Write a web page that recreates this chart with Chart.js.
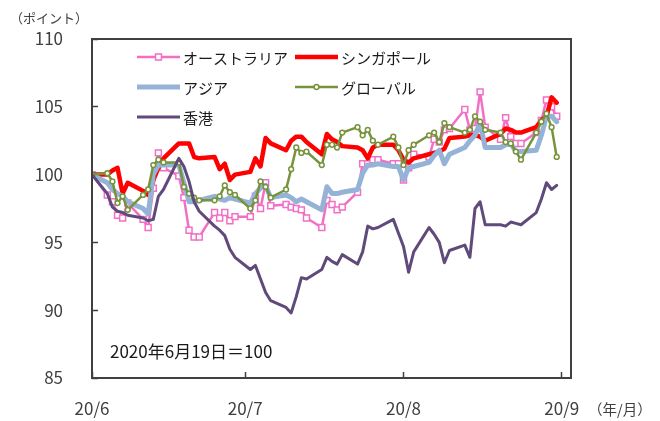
<!DOCTYPE html>
<html lang="ja">
<head>
<meta charset="utf-8">
<title>指数推移</title>
<script src="https://cdn.jsdelivr.net/npm/chart.js@4.4.1/dist/chart.umd.min.js"></script>
<style>
	html, body { margin: 0; padding: 0; background: #fff; }
	#wrap { position: relative; width: 660px; height: 421px; }
</style>
</head>
<body>
<div id="wrap"><canvas id="indexChart" width="660" height="421"></canvas></div>
<script>
// business days, 2020
const dates = [
	'6/19', '6/22', '6/23', '6/24', '6/25', '6/26', '6/29', '6/30',
	'7/1', '7/2', '7/3', '7/6', '7/7', '7/8', '7/9', '7/10', '7/13', '7/14', '7/15', '7/16', '7/17',
	'7/20', '7/21', '7/22', '7/23', '7/24', '7/27', '7/28', '7/29', '7/30', '7/31',
	'8/3', '8/4', '8/5', '8/6', '8/7', '8/10', '8/11', '8/12', '8/13', '8/14',
	'8/17', '8/18', '8/19', '8/20', '8/21', '8/24', '8/25', '8/26', '8/27', '8/28', '8/31',
	'9/1', '9/2', '9/3', '9/4', '9/7', '9/8', '9/9', '9/10', '9/11', '9/14', '9/15', '9/16', '9/17', '9/18'
];

const australia = [
	100.0, 98.5, 98.0, 97.0, 96.8, 97.9, 96.7, 96.1, 99.0, 101.6,
	100.5, 99.9, 98.3, 95.9, 95.4, 95.4, 97.2, 96.8, 97.2, 96.6,
	96.9, 96.9, 98.4, 97.5, 99.4, 97.7, 97.8, 97.6, 97.5, 97.4,
	96.8, 96.1, 98.1, 97.8, 97.4, 97.6, 98.7, 100.8, 100.8, 101.1,
	101.1, 100.8, 100.8, 99.6, 100.5, 101.5, 101.3, 102.6, 102.4, 103.3,
	103.4, 104.8, 103.3, 103.4, 106.1, 103.5, 102.6, 104.2, 102.8, 102.3,
	102.3, 103.1, 104.0, 105.5, 105.0, 104.3
];
const singapore = [
	100.0, 100.0, 100.3, 100.5, 98.6, 99.4, 98.8, 98.5, 99.6, 100.5,
	101.2, 102.3, 102.3, 102.3, 101.3, 101.2, 101.3, 100.4, 100.8, 99.6,
	100.0, 100.2, 101.2, 100.6, 102.7, 102.3, 101.8, 102.5, 102.8, 102.8,
	102.4, 101.5, 103.0, 102.6, 102.4, 102.1, 102.0, 101.8, 101.2, 102.0,
	102.2, 102.2, 101.8, 101.1, 100.9, 101.2, 101.5, 101.6, 101.7, 101.9,
	102.7, 102.8, 102.9, 102.9, 102.8, 102.5, 103.0, 103.4, 103.3, 103.1,
	103.1, 103.5, 104.0, 104.3, 105.7, 105.3
];
const asia = [
	100.0, 99.4, 98.9, 98.6, 98.4, 98.0, 97.5, 97.1, 100.0, 100.7,
	100.7, 100.7, 99.4, 98.0, 98.0, 98.1, 98.4, 98.2, 98.1, 98.3,
	98.2, 97.9, 98.6, 99.0, 99.2, 98.3, 98.5, 98.3, 98.0, 98.2,
	98.0, 97.4, 99.1, 98.6, 98.6, 98.7, 98.9, 100.1, 100.7, 100.7,
	100.8, 100.6, 100.6, 99.6, 100.5, 100.6, 100.9, 101.4, 101.8, 100.8,
	101.5, 102.0, 102.5, 102.9, 103.8, 102.0, 102.0, 102.2, 102.3, 101.7,
	101.7, 101.8, 102.9, 104.3, 104.3, 103.9
];
const globalIdx = [
	100.0, 100.1, 99.5, 97.9, 98.4, 97.4, 98.5, 98.9, 100.7, 101.1,
	100.9, 100.9, 99.1, 98.6, 98.3, 98.1, 98.1, 98.4, 99.2, 98.7,
	98.5, 97.5, 98.1, 99.5, 99.1, 98.3, 98.9, 100.4, 102.0, 101.6,
	101.7, 100.7, 102.2, 102.2, 102.0, 103.1, 103.5, 102.9, 103.3, 102.5,
	102.2, 102.8, 102.0, 100.7, 101.8, 102.2, 102.9, 103.1, 102.4, 103.8,
	103.5, 103.1, 103.3, 104.3, 103.9, 103.3, 103.1, 102.4, 102.3, 101.7,
	101.1, 103.1, 103.9, 104.5, 103.5, 101.3
];
const hongKong = [
	100.0, 98.6, 97.6, 97.3, 97.2, 97.0, 96.8, 96.6, 96.7, 98.4,
	98.9, 101.2, 100.6, 99.5, 98.0, 97.3, 96.2, 95.9, 95.5, 94.5,
	93.9, 93.0, 93.3, 92.3, 91.3, 90.7, 90.2, 89.8, 91.0, 92.4,
	92.3, 93.0, 93.9, 93.6, 93.4, 94.1, 93.4, 94.3, 96.2, 96.0,
	96.1, 96.7, 95.7, 94.7, 92.8, 94.3, 96.1, 95.6, 95.0, 93.5,
	94.4, 94.8, 93.9, 97.5, 98.0, 96.3, 96.3, 96.2, 96.5, 96.4,
	96.3, 97.2, 98.2, 99.4, 98.9, 99.2
];

const xTickDates = ['6/19', '7/19', '8/19', '9/19'];
const xTickLabels = ['20/6', '20/7', '20/8', '20/9'];
const yTicks = { min: 85, max: 110, step: 5 };

// days counted from 2020/6/19
const baseDay = Date.UTC(2020, 5, 19);
function dayOf(s) {
	const p = s.split('/');
	return (Date.UTC(2020, Number(p[0]) - 1, Number(p[1])) - baseDay) / 86400000;
}
const xDays = dates.map(dayOf);
const xTickDays = xTickDates.map(dayOf);
function points(values) {
	return values.map(function (v, i) { return { x: xDays[i], y: v }; });
}

const CJK = '"Noto Sans CJK JP", "Noto Sans", sans-serif';
const AXIS_COLOR = '#404040';

const decorPlugin = {
	id: 'decor',
	afterDraw: function (chart) {
		const ctx = chart.ctx;
		const a = chart.chartArea;
		ctx.save();

		// plot frame
		ctx.strokeStyle = AXIS_COLOR;
		ctx.lineWidth = 2;
		ctx.strokeRect(a.left, a.top, a.right - a.left, a.bottom - a.top);

		// legend, two columns
		ctx.font = '15px ' + CJK;
		ctx.textBaseline = 'middle';
		ctx.textAlign = 'left';
		chart.data.datasets.forEach(function (ds, i) {
			const col = i % 2, row = Math.floor(i / 2);
			const x0 = a.left + 45 + col * 158;
			const y = a.top + 18 + row * 30;
			ctx.strokeStyle = ds.borderColor;
			ctx.lineWidth = ds.borderWidth;
			ctx.beginPath();
			ctx.moveTo(x0, y);
			ctx.lineTo(x0 + 43, y);
			ctx.stroke();
			if (ds.pointRadius > 0) {
				ctx.fillStyle = ds.pointBackgroundColor;
				ctx.strokeStyle = ds.borderColor;
				ctx.lineWidth = ds.pointBorderWidth;
				ctx.beginPath();
				if (ds.pointStyle === 'rect') {
					const s = ds.pointRadius * Math.SQRT1_2;
					ctx.rect(x0 + 21.5 - s, y - s, 2 * s, 2 * s);
				} else {
					ctx.arc(x0 + 21.5, y, ds.pointRadius, 0, Math.PI * 2);
				}
				ctx.fill();
				ctx.stroke();
			}
			ctx.fillStyle = '#1a1a1a';
			ctx.fillText(ds.label, x0 + 46, y + 1);
		});

		// base note
		ctx.font = '17px ' + CJK;
		ctx.fillStyle = '#1a1a1a';
		ctx.fillText('2020年6月19日＝100', a.left + 18, a.bottom - 26);

		// axis titles
		ctx.font = '13px ' + CJK;
		ctx.fillStyle = AXIS_COLOR;
		ctx.fillText('（ポイント）', 10, 18);
		ctx.font = '14.5px ' + CJK;
		ctx.fillText('（年/月）', 588, 409);

		ctx.restore();
	}
};

const ctx = document.getElementById('indexChart').getContext('2d');
const indexChart = new Chart(ctx, {
	type: 'line',
	data: {
		datasets: [{
			label: 'オーストラリア',
			data: points(australia),
			borderColor: '#F26FC6',
			borderWidth: 2.5,
			pointStyle: 'rect',
			pointRadius: 4.2,
			pointBorderWidth: 1.5,
			pointBackgroundColor: '#fff',
			order: 5
		},
		{
			label: 'シンガポール',
			data: points(singapore),
			borderColor: '#FF0000',
			borderWidth: 4.5,
			pointRadius: 0,
			order: 4
		},
		{
			label: 'アジア',
			data: points(asia),
			borderColor: '#95B3D7',
			borderWidth: 5,
			pointRadius: 0,
			order: 3
		},
		{
			label: 'グローバル',
			data: points(globalIdx),
			borderColor: '#77933C',
			borderWidth: 2.5,
			pointStyle: 'circle',
			pointRadius: 2.4,
			pointBorderWidth: 1.5,
			pointBackgroundColor: '#fff',
			order: 2
		},
		{
			label: '香港',
			data: points(hongKong),
			borderColor: '#604A7B',
			borderWidth: 3,
			pointRadius: 0,
			order: 1
		}]
	},
	options: {
		responsive: false,
		animation: false,
		layout: { padding: { left: 0, top: 39, right: 89, bottom: 0 } },
		elements: { line: { tension: 0, borderJoinStyle: 'round', borderCapStyle: 'round' } },
		plugins: {
			legend: { display: false },
			tooltip: { enabled: false }
		},
		scales: {
			x: {
				type: 'linear',
				min: 0,
				max: 93.8,
				afterFit: function (scale) {
					scale.height = 43;
					scale.paddingLeft = 0;
					scale.paddingRight = 0;
				},
				afterBuildTicks: function (scale) {
					scale.ticks = xTickDays.map(function (d) { return { value: d }; });
				},
				grid: { drawOnChartArea: false, drawTicks: true, tickLength: -6, tickColor: AXIS_COLOR, tickWidth: 1.5 },
				border: { display: false },
				ticks: {
					autoSkip: false,
					maxRotation: 0,
					padding: 26,
					color: AXIS_COLOR,
					font: { family: CJK, size: 17 },
					callback: function (value, index) { return xTickLabels[index]; }
				}
			},
			y: {
				min: yTicks.min,
				max: yTicks.max,
				afterFit: function (scale) {
					scale.width = 92;
					scale.paddingTop = 0;
					scale.paddingBottom = 0;
				},
				grid: { drawOnChartArea: false, drawTicks: true, tickLength: -6, tickColor: AXIS_COLOR, tickWidth: 1.5 },
				border: { display: false },
				ticks: {
					stepSize: yTicks.step,
					padding: 35,
					color: AXIS_COLOR,
					font: { family: CJK, size: 17 }
				}
			}
		}
	},
	plugins: [decorPlugin]
});
</script>
</body>
</html>
